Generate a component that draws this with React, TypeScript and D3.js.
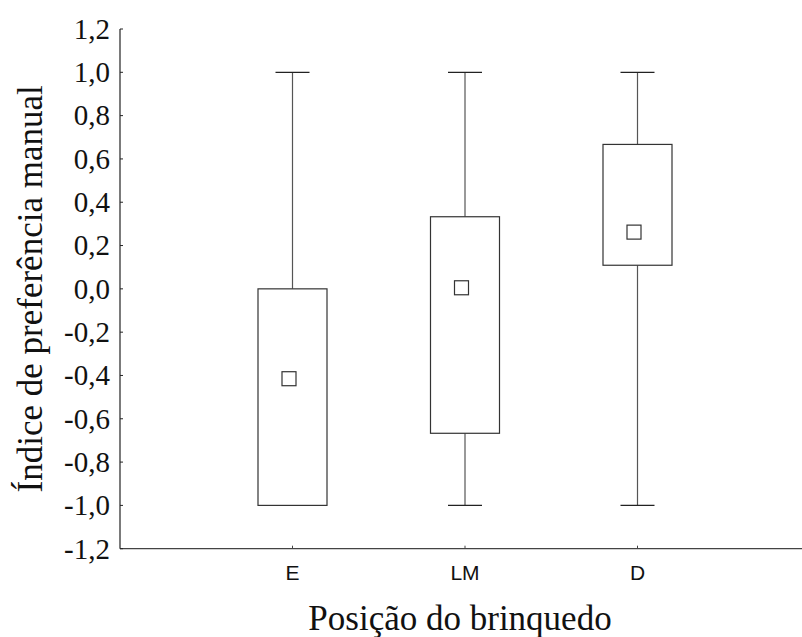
import React from "react";
import * as d3 from "d3";

const categories = ["E", "LM", "D"];
const means = [-0.415, 0.005, 0.262];
const q1 = [-1.0, -0.667, 0.109];
const q3 = [0.0, 0.333, 0.667];
const whiskerLow = [-1.0, -1.0, -1.0];
const whiskerHigh = [1.0, 1.0, 1.0];
const yTicks = [-1.2, -1.0, -0.8, -0.6, -0.4, -0.2, 0.0, 0.2, 0.4, 0.6, 0.8, 1.0, 1.2];

const W = 802;
const H = 637;
const left = 120;
const top = 29;
const bottom = 548.7;

export default function App() {
  const y = d3.scaleLinear().domain([-1.2, 1.2]).range([bottom, top]);
  const x = d3.scaleLinear().domain([0, categories.length + 1]).range([left, left + 172.5 * (categories.length + 1)]);
  const fmt = (v: number) => d3.format(".1f")(v).replace(".", ",").replace("\u2212", "-");
  const boxW = 69;
  const capW = 34;
  const mk = 14;
  const serif = "'Liberation Serif', 'Times New Roman', Times, serif";
  const sans = "'Liberation Sans', Arial, sans-serif";
  const stroke = "#333";
  return (
    <div style={{ position: "absolute", left: 0, top: 0 }}>
      <svg width={W} height={H} style={{ display: "block", background: "#fff" }}>
        <line x1={left} x2={left} y1={top} y2={bottom} stroke="#222" strokeWidth={1.2} />
        <line x1={left} x2={W} y1={bottom} y2={bottom} stroke="#444" strokeWidth={1.2} />
        {yTicks.map((t) => (
          <g key={t}>
            <line x1={left} x2={left + 3} y1={y(t)} y2={y(t)} stroke="#222" strokeWidth={1} />
            <text x={110} y={y(t)} dy="0.34em" textAnchor="end" fontFamily={serif} fontSize={29} fill="#111">
              {fmt(t)}
            </text>
          </g>
        ))}
        {categories.map((c, i) => (
          <g key={c}>
            <line x1={x(i + 1)} x2={x(i + 1)} y1={bottom} y2={bottom - 3} stroke="#444" strokeWidth={1} />
            <text x={x(i + 1)} y={580} textAnchor="middle" fontFamily={sans} fontSize={21} fill="#111">
              {c}
            </text>
          </g>
        ))}
        {categories.map((c, i) => {
          const cx = x(i + 1);
          return (
            <g key={"b" + c}>
              <line x1={cx} x2={cx} y1={y(whiskerHigh[i])} y2={y(q3[i])} stroke="#555" strokeWidth={1.2} />
              <line x1={cx} x2={cx} y1={y(q1[i])} y2={y(whiskerLow[i])} stroke="#555" strokeWidth={1.2} />
              <line x1={cx - capW / 2} x2={cx + capW / 2} y1={y(whiskerHigh[i])} y2={y(whiskerHigh[i])} stroke="#222" strokeWidth={1.2} />
              <line x1={cx - capW / 2} x2={cx + capW / 2} y1={y(whiskerLow[i])} y2={y(whiskerLow[i])} stroke="#222" strokeWidth={1.2} />
              <rect x={cx - boxW / 2} y={y(q3[i])} width={boxW} height={y(q1[i]) - y(q3[i])} fill="#fff" stroke={stroke} strokeWidth={1.2} />
              <rect x={cx - 3.5 - mk / 2} y={y(means[i]) - mk / 2} width={mk} height={mk} fill="#fff" stroke={stroke} strokeWidth={1.2} />
            </g>
          );
        })}
        <text x={460} y={630} textAnchor="middle" fontFamily={serif} fontSize={35} fill="#111">
          Posição do brinquedo
        </text>
        <text transform={`translate(42, ${(top + bottom) / 2}) rotate(-90)`} textAnchor="middle" fontFamily={serif} fontSize={35} fill="#111">
          Índice de preferência manual
        </text>
      </svg>
    </div>
  );
}
